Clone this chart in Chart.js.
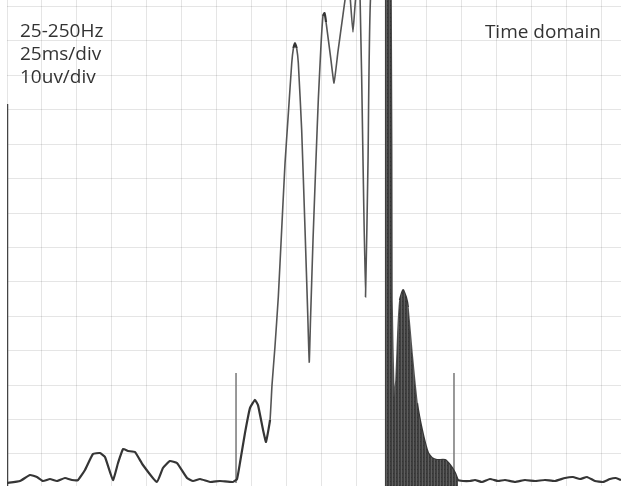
<!DOCTYPE html>
<html>
<head>
<meta charset="utf-8">
<script src="https://cdn.jsdelivr.net/npm/chart.js@4"></script>
<style>
    html, body { margin: 0; padding: 0; background: #fff; }
    #wrap { position: relative; width: 621px; height: 486px; }
</style>
</head>
<body>
<div id="wrap"><canvas id="trace"></canvas></div>
<script>
////////////////////////////////////////////////////////////////////////////////
// data (time in ms, amplitude in uV)
////////////////////////////////////////////////////////////////////////////////
const INFO_LINES = ["25-250Hz", "25ms/div", "10uv/div"];
const DOMAIN_LABEL = "Time domain";

// trace before the stimulus burst
const PRE_MS = [0, 9.3, 16.4, 21.4, 25.7, 30.7, 35.7, 41.4, 46.4, 50.7, 55.7, 61.4, 66.4, 70.0,
    75.7, 79.3, 82.9, 86.4, 91.4, 97.1, 107.1, 111.4, 116.4, 121.4, 128.6, 132.9, 137.9, 145.0,
    152.1, 161.4, 164.3, 166.4, 170.0, 173.6, 177.1, 179.3, 182.9, 185.0, 187.9, 189.3, 191.4,
    193.8, 196.2, 198.6, 201.0, 203.4, 204.6, 205.7, 206.9, 208.1, 210.5, 212.9, 214.8, 215.9,
    216.8, 218.6, 220.7, 222.4, 224.3, 225.7, 226.8, 227.9, 231.4, 233.6, 236.4, 240.0, 243.6,
    245.0, 247.1, 249.3, 252.1, 254.3, 256.1, 257.9, 260.0];
const PRE_UV = [1.57, 2.15, 3.89, 3.31, 2.15, 2.73, 2.15, 3.02, 2.44, 2.44, 5.35, 9.99, 10.28, 9.12,
    2.44, 7.38, 11.45, 10.87, 10.58, 6.8, 1.86, 5.93, 7.96, 7.38, 3.02, 2.15, 2.73, 1.86,
    2.15, 1.86, 2.73, 7.38, 16.1, 23.4, 25.7, 24.2, 17.0, 13.5, 19.9, 30.0, 41.1,
    55.6, 75.1, 94.5, 109.1, 123.6, 127.9, 129.4, 127.9, 123.6, 104.1, 75.1, 51.0, 36.7,
    48.9, 72.2, 95.4, 113.1, 128.8, 137.3, 138.1, 135.5, 124.5, 117.8, 126.8, 137.6, 147.7,
    143.4, 132.6, 143.4, 144.8, 95.4, 55.6, 95.4, 144.8];

// envelope of the dense burst (filled)
const BURST_MS = [270.0, 274.3, 275.0, 276.4, 277.9, 279.3, 280.7, 282.9, 285.0, 286.4, 289.3,
    292.9, 296.4, 300.7, 303.6, 307.1, 312.9, 316.4, 320.0, 322.1];
const BURST_UV = [144.8, 144.8, 54.7, 26.6, 31.5, 46.0, 54.7, 57.6, 55.5, 52.6, 39.3,
    24.8, 17.0, 10.3, 8.8, 8.25, 8.25, 6.8, 4.5, 2.44];

// trace after the burst
const TAIL_MS = [325.7, 330.7, 334.3, 339.3, 345.0, 350.7, 355.7, 362.9, 370.0, 377.1, 384.3, 391.4,
    398.6, 404.3, 409.3, 414.3, 420.0, 425.7, 430.7, 435.0, 438.6];
const TAIL_UV = [2.15, 2.15, 2.44, 1.86, 2.73, 2.15, 2.44, 1.86, 2.44, 2.15, 2.44, 2.15,
    3.02, 3.31, 2.73, 3.31, 2.15, 1.86, 2.73, 3.02, 2.44];

// window cursors, stimulus artifact, left frame
const CURSOR_MS = [163.6, 319.3];
const CURSOR_UV = [1.6, 33.5];
const ARTIFACT_MS = 271.4;
const ARTIFACT_UV = [0.7, 150];
const FRAME_MS = 0;
const FRAME_UV = [0.7, 111.7];

const X_MIN = 0, X_MAX = 438.6, X_STEP = 25;
const Y_MIN = 0.7, Y_MAX = 141.9, Y_STEP = 10;

let myChart = null;

////////////////////////////////////////////////////////////////////////////////
// helpers
////////////////////////////////////////////////////////////////////////////////
const toPoints = (xs, ys)=>xs.map((x, i)=>({x: x, y: ys[i]}));

const vertical = (x, ys)=>ys.map((y)=>({x: x, y: y}));

// fast sweeps are written fainter on the scope
const isSteep = (ctx)=>{
    const dx = Math.abs(ctx.p1.x - ctx.p0.x);
    const dy = Math.abs(ctx.p1.y - ctx.p0.y);
    return dy / Math.max(dx, 0.5) > 6;
};

const makeStripes = ()=>{
    const c = document.createElement("canvas");
    c.width = 3; c.height = 4;
    const g = c.getContext("2d");
    g.fillStyle = "#3e3e3e";
    g.fillRect(0, 0, 3, 4);
    g.fillStyle = "#5e5e5e";
    g.fillRect(2, 0, 1, 4);
    g.fillStyle = "#333";
    g.fillRect(0, 1, 1, 1);
    return g.createPattern(c, "repeat");
};

const labelPlugin = {
    id: "labels",
    afterDraw: (chart)=>{
        const ctx = chart.ctx;
        ctx.save();
        ctx.fillStyle = "#333";
        ctx.font = "19px 'Open Sans'";
        ctx.textBaseline = "alphabetic";
        ctx.textAlign = "left";
        INFO_LINES.forEach((t, i)=>ctx.fillText(t, 20, 37 + i * 23));
        ctx.textAlign = "right";
        ctx.fillText(DOMAIN_LABEL, 601, 38);
        ctx.restore();
    }
};

////////////////////////////////////////////////////////////////////////////////
// chart
////////////////////////////////////////////////////////////////////////////////
const createChart = ()=>{
    const canvas = document.querySelector("#trace");
    const lineBase = {pointRadius: 0, fill: false, tension: 0, showLine: true};
    const gridStyle = { color: "rgba(0,0,0,0.1)", lineWidth: 1, drawTicks: false };
    myChart = new Chart(canvas, {
        type: "scatter",
        data: {
            datasets: [
                Object.assign({}, lineBase, {
                    label: "burst",
                    data: toPoints(BURST_MS, BURST_UV),
                    borderWidth: 0,
                    backgroundColor: makeStripes(),
                    fill: "start",
                    tension: 0.2,
                }),
                Object.assign({}, lineBase, {
                    label: "trace",
                    data: toPoints(PRE_MS, PRE_UV)
                        .concat(toPoints(BURST_MS, BURST_UV))
                        .concat(toPoints(TAIL_MS, TAIL_UV)),
                    borderColor: "#353535",
                    borderWidth: 2.2,
                    tension: 0.12,
                    segment: {
                        borderColor: (ctx)=>isSteep(ctx) ? "#555" : "#353535",
                        borderWidth: (ctx)=>isSteep(ctx) ? 1.6 : 2.2,
                    },
                }),
                Object.assign({}, lineBase, {
                    label: "artifact",
                    data: vertical(ARTIFACT_MS, ARTIFACT_UV),
                    borderColor: "#222",
                    borderWidth: 4,
                }),
                Object.assign({}, lineBase, {
                    label: "cursor 1",
                    data: vertical(CURSOR_MS[0], CURSOR_UV),
                    borderColor: "#777",
                    borderWidth: 1.5,
                }),
                Object.assign({}, lineBase, {
                    label: "cursor 2",
                    data: vertical(CURSOR_MS[1], CURSOR_UV),
                    borderColor: "#777",
                    borderWidth: 1.5,
                }),
                Object.assign({}, lineBase, {
                    label: "frame",
                    data: vertical(FRAME_MS, FRAME_UV),
                    borderColor: "#444",
                    borderWidth: 2.5,
                }),
            ],
        },
        options: {
            maintainAspectRatio: false,
            animation: false,
            layout: { padding: { left: 7, right: 0, top: 0, bottom: 0 } },
            plugins: { legend: { display: false }, tooltip: { enabled: false } },
            scales: {
                x: {
                    type: "linear",
                    min: X_MIN, max: X_MAX,
                    ticks: { display: false, stepSize: X_STEP, includeBounds: false },
                    grid: gridStyle,
                    border: { display: false },
                    afterFit: (s)=>{ s.height = 0; },
                },
                y: {
                    type: "linear",
                    min: Y_MIN, max: Y_MAX,
                    ticks: { display: false, stepSize: Y_STEP, includeBounds: false },
                    grid: gridStyle,
                    border: { display: false },
                    afterFit: (s)=>{ s.width = 0; },
                },
            },
        },
        plugins: [labelPlugin],
    });
};

createChart();
</script>
</body>
</html>
